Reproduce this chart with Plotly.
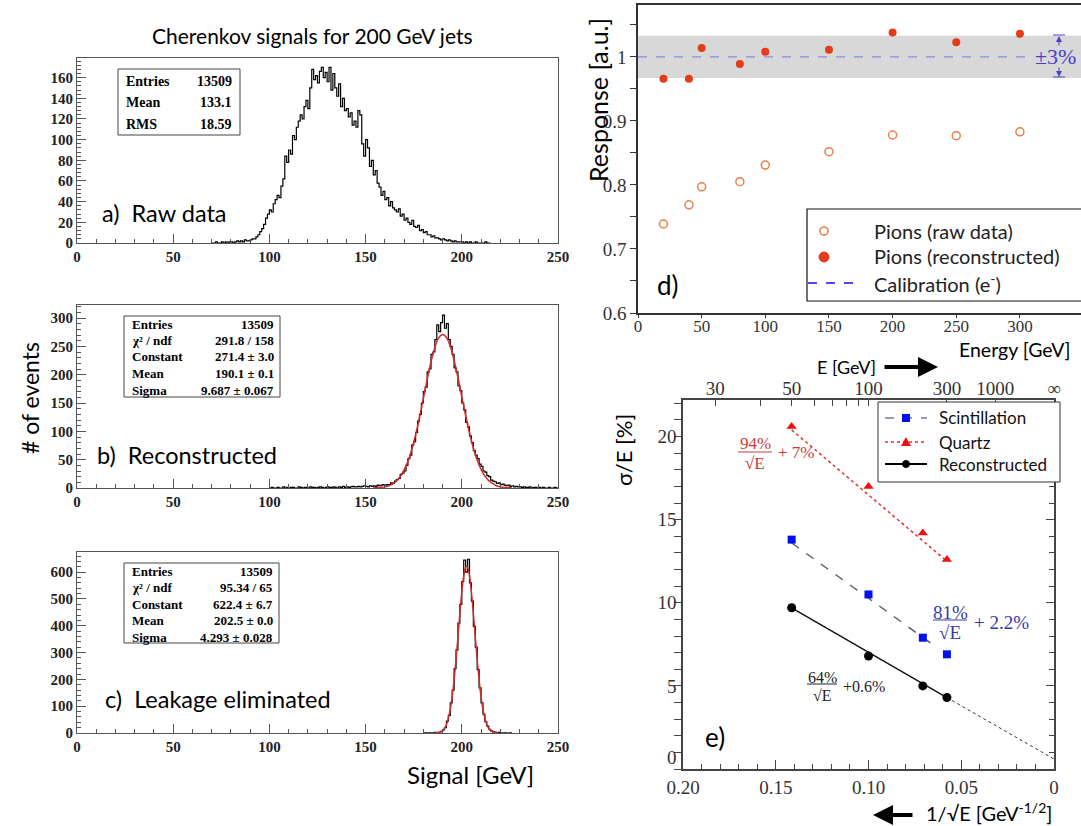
import numpy as np
import plotly.graph_objects as go

W, H = 1081, 826

# ---------------- data ----------------
# a) raw data histogram, 1 GeV bins starting at 70 GeV
a_start = 70
a_counts = [0, 0, 1, 0, 0, 1, 0, 1, 0, 1,
            1, 0, 1, 2, 1, 2, 1, 3, 2, 2,
            3, 4, 4, 6, 8, 11, 14, 18, 24, 28,
            32, 30, 38, 42, 46, 44, 55, 62, 84, 78,
            90, 86, 104, 100, 112, 118, 124, 120, 132, 138,
            130, 150, 168, 158, 162, 155, 166, 170, 160, 165,
            156, 170, 148, 164, 150, 142, 154, 132, 140, 128,
            130, 122, 126, 114, 118, 112, 128, 124, 96, 84,
            100, 92, 74, 80, 66, 70, 58, 54, 46, 50,
            42, 44, 36, 40, 34, 32, 30, 33, 26, 28,
            22, 24, 20, 18, 22, 16, 15, 17, 12, 13,
            10, 11, 8, 8, 6, 7, 5, 5, 4, 3,
            4, 3, 2, 3, 2, 1, 2, 1, 1, 1,
            1, 0, 1, 0, 1, 0, 0, 1, 0, 0, 0, 0, 1, 0, 0]

# b) reconstructed histogram, 1 GeV bins starting at 100 GeV
b_start = 100
b_counts = [0, 1, 0, 0, 1, 0, 0, 2, 0, 1, 0, 1, 1, 0, 0, 2, 1, 0, 1, 1,
            0, 2, 1, 1, 0, 1, 2, 1, 0, 1, 2, 1, 1, 2, 1, 0, 2, 1, 3, 1,
            2, 1, 2, 3, 2, 2, 3, 2, 3, 4,
            3, 2, 4, 3, 4, 3, 5, 4, 5, 6,
            5, 6, 6, 9, 8, 12, 15, 17, 24, 26,
            30, 40, 52, 58, 76, 82, 98, 118, 130, 150,
            170, 178, 205, 210, 236, 240, 262, 288, 276, 292,
            305, 282, 290, 262, 250, 236, 212, 205, 180, 172,
            150, 138, 116, 108, 92, 80, 66, 58, 52, 42,
            38, 30, 28, 22, 20, 14, 12, 11, 8, 9,
            6, 7, 5, 4, 5, 3, 4, 2, 3, 2, 2, 1, 2, 1, 1, 2, 0, 1, 1, 0,
            1, 0, 1, 0, 0, 1, 0, 0, 1, 0]
b_fit_x = [154, 156, 158, 160, 162, 164, 166, 168, 170, 172, 174, 176, 178, 180,
           182, 184, 186, 188, 190, 192, 194, 196, 198, 200, 202, 204, 206, 208,
           210, 212, 214, 216, 218, 220, 222, 224, 226]
b_fit_y = [0.3, 0.6, 1.2, 2, 4, 7, 12, 20, 32, 47, 68, 94, 124, 158, 191, 223, 248,
           265, 271, 266, 250, 225, 195, 161, 128, 97, 71, 49, 33, 21, 13, 8, 4, 2,
           1, 0.6, 0.3]

# c) leakage eliminated histogram, 1 GeV bins starting at 180 GeV
c_start = 180
c_counts = [0, 1, 0, 1, 0, 1, 2, 1, 3, 6,
            12, 20, 44, 66, 112, 160, 240, 310, 410, 480,
            565, 645, 600, 648, 560, 492, 398, 320, 236, 168,
            112, 70, 42, 26, 14, 8, 4, 3, 1, 2,
            1, 0, 1, 0, 0, 1]
c_fit_x = [186, 187, 188, 189, 190, 191, 192, 193, 194, 195, 196, 197, 198, 199, 200,
           201, 202, 202.5, 203, 204, 205, 206, 207, 208, 209, 210, 211, 212, 213,
           214, 215, 216, 217, 218, 219]
c_fit_y = [0.4, 0.9, 2, 4, 9, 17, 31, 54, 88, 135, 198, 274, 359, 447, 525, 586, 618,
           622, 618, 586, 525, 447, 359, 274, 198, 135, 88, 54, 31, 17, 9, 4, 2, 0.9, 0.4]

stats_a = [("Entries", "13509"), ("Mean", "133.1"), ("RMS", "18.59")]
stats_b = [("Entries", "13509"), ("χ² / ndf", "291.8 / 158"), ("Constant", "271.4 ± 3.0"),
           ("Mean", "190.1 ± 0.1"), ("Sigma", "9.687 ± 0.067")]
stats_c = [("Entries", "13509"), ("χ² / ndf", "95.34 / 65"), ("Constant", "622.4 ± 6.7"),
           ("Mean", "202.5 ± 0.0"), ("Sigma", "4.293 ± 0.028")]

# d) response vs energy
d_energy = [20, 40, 50, 80, 100, 150, 200, 250, 300]
d_raw = [0.739, 0.769, 0.797, 0.805, 0.831, 0.852, 0.878, 0.877, 0.883]
d_reco = [0.966, 0.966, 1.014, 0.989, 1.008, 1.011, 1.038, 1.023, 1.036]
d_calib = [1.0, 1.0]
d_calib_E = [0, 308]
d_band = [0.967, 1.033]

# e) resolution vs 1/sqrt(E)
e_energy = [50, 100, 200, 300]
e_scint = [13.8, 10.5, 7.9, 6.9]
e_quartz = [20.6, 17.0, 14.2, 12.6]
e_reco = [9.7, 6.8, 5.0, 4.3]
e_scint_fit_E = [50, 242]
e_scint_fit = [13.6, 7.4]
e_quartz_fit_E = [50, 300]
e_quartz_fit = [20.4, 12.5]
e_reco_fit_E = [50, 300]
e_reco_fit = [9.7, 4.3]
e_reco_extrap_E = [300, np.inf]
e_reco_extrap = [4.3, 0.6]
e_top_E = [30, 40, 50, 60, 70, 80, 90, 100, 300, 1000, np.inf]
e_top_text = ["30", "", "50", "", "", "", "", "100", "300", "1000", "∞"]
e_y_ticks = [5, 10, 15, 20]


def inv_sqrt(E):
    return 1.0 / np.sqrt(np.asarray(E, dtype=float))


# ---------------- helpers ----------------
def px(x):
    return x / W


def py(y):
    return 1 - y / H


SERIF = "Liberation Serif"
SANS = "Lato"

fig = go.Figure()
annotations = []
shapes = []


def text(t, x, y, size, family=SANS, color="black", xanchor="center",
         yanchor="middle", angle=0, weight="normal"):
    annotations.append(dict(text=t, x=px(x), y=py(y), xref="paper", yref="paper",
                            showarrow=False, xanchor=xanchor, yanchor=yanchor,
                            textangle=angle,
                            font=dict(family=family, size=size, color=color, weight=weight)))


def arrow(x_tip, y_tip, x_tail, y_tail, width, color="black", head=2, size=1.0):
    annotations.append(dict(text="", x=px(x_tip), y=py(y_tip),
                            ax=x_tail - x_tip, ay=y_tail - y_tip,
                            xref="paper", yref="paper",
                            showarrow=True, arrowhead=head, arrowwidth=width,
                            arrowsize=size, arrowcolor=color))


def rect(x0, y0, x1, y1, line="#444", width=1, fill="white", layer="above"):
    shapes.append(dict(type="rect", xref="paper", yref="paper", x0=px(x0), x1=px(x1),
                       y0=py(y1), y1=py(y0), line=dict(color=line, width=width),
                       fillcolor=fill, layer=layer))


def pline(x0, y0, x1, y1, color="black", width=1, dash="solid"):
    shapes.append(dict(type="line", xref="paper", yref="paper", x0=px(x0), x1=px(x1),
                       y0=py(y0), y1=py(y1), line=dict(color=color, width=width, dash=dash)))


def pcircle(cx, cy, r, line, fill, width=1.5):
    shapes.append(dict(type="circle", xref="paper", yref="paper", x0=px(cx - r), x1=px(cx + r),
                       y0=py(cy + r), y1=py(cy - r), line=dict(color=line, width=width),
                       fillcolor=fill))


def hist(start, counts, xa, ya):
    edges = np.arange(start, start + len(counts) + 1)
    yv = list(counts) + [counts[-1]]
    fig.add_trace(go.Scatter(x=edges, y=yv, mode="lines", xaxis=xa, yaxis=ya,
                             line=dict(color="black", width=1.2, shape="hv"),
                             showlegend=False, hoverinfo="skip"))


def fitline(xs, ys, xa, ya):
    fig.add_trace(go.Scatter(x=xs, y=ys, mode="lines", xaxis=xa, yaxis=ya,
                             line=dict(color="#d42a2a", width=1.5, shape="spline"),
                             showlegend=False, hoverinfo="skip"))


# ---------------- panels a-c ----------------
hist(a_start, a_counts, "x", "y")
hist(b_start, b_counts, "x2", "y2")
fitline(b_fit_x, b_fit_y, "x2", "y2")
hist(c_start, c_counts, "x3", "y3")
fitline(c_fit_x, c_fit_y, "x3", "y3")

# ---------------- panel d ----------------
fig.add_trace(go.Scatter(x=d_energy, y=d_raw, mode="markers", xaxis="x4", yaxis="y4",
                         marker=dict(symbol="circle-open", size=8, color="#e8804c",
                                     line=dict(width=1.5, color="#e8804c")),
                         showlegend=False))
fig.add_trace(go.Scatter(x=d_energy, y=d_reco, mode="markers", xaxis="x4", yaxis="y4",
                         marker=dict(symbol="circle", size=8, color="#e23c1a"),
                         showlegend=False))
shapes.append(dict(type="rect", xref="x4", yref="y4", x0=0, x1=348, y0=d_band[0], y1=d_band[1],
                   fillcolor="#d8d8d8", line=dict(width=0), layer="below"))
fig.add_trace(go.Scatter(x=d_calib_E, y=d_calib, mode="lines", xaxis="x4", yaxis="y4",
                         line=dict(color="#8a8ae6", width=1.2, dash="dash"),
                         showlegend=False, hoverinfo="skip"))

# ---------------- panel e ----------------
fig.add_trace(go.Scatter(x=inv_sqrt(e_scint_fit_E), y=e_scint_fit, mode="lines", xaxis="x5", yaxis="y5",
                         line=dict(color="#555555", width=1.3, dash="dash"), showlegend=False))
fig.add_trace(go.Scatter(x=inv_sqrt(e_quartz_fit_E), y=e_quartz_fit, mode="lines", xaxis="x5", yaxis="y5",
                         line=dict(color="#e03030", width=1.5, dash="dot"), showlegend=False))
fig.add_trace(go.Scatter(x=inv_sqrt(e_reco_fit_E), y=e_reco_fit, mode="lines", xaxis="x5", yaxis="y5",
                         line=dict(color="#111111", width=1.4), showlegend=False))
fig.add_trace(go.Scatter(x=inv_sqrt(e_reco_extrap_E), y=e_reco_extrap, mode="lines", xaxis="x5", yaxis="y5",
                         line=dict(color="#333333", width=1, dash="dot"), showlegend=False))
fig.add_trace(go.Scatter(x=inv_sqrt(e_energy), y=e_scint, mode="markers", xaxis="x5", yaxis="y5",
                         marker=dict(symbol="square", size=8, color="#0010ee"), showlegend=False))
fig.add_trace(go.Scatter(x=inv_sqrt(e_energy), y=e_quartz, mode="markers", xaxis="x5", yaxis="y5",
                         marker=dict(symbol="triangle-up", size=9, color="#ee1010"), showlegend=False))
fig.add_trace(go.Scatter(x=inv_sqrt(e_energy), y=e_reco, mode="markers", xaxis="x5", yaxis="y5",
                         marker=dict(symbol="circle", size=9, color="black"), showlegend=False))
# invisible traces anchoring the top (energy) axis and the right tick axis
fig.add_trace(go.Scatter(x=[0.1], y=[-5], mode="markers", xaxis="x6", yaxis="y5",
                         marker=dict(opacity=0), showlegend=False, hoverinfo="skip"))
fig.add_trace(go.Scatter(x=[0.1], y=[-5], mode="markers", xaxis="x5", yaxis="y7",
                         marker=dict(opacity=0), showlegend=False, hoverinfo="skip"))

# ---------------- axes ----------------
hist_font = dict(family=SERIF, size=15, color="#222", weight="bold")
hcommon = dict(showgrid=False, zeroline=False, showline=True, mirror=True, linecolor="#555",
               linewidth=1, ticks="inside", tickcolor="#555", ticklen=9, tickfont=hist_font)


def hminor(d, ln=4):
    return dict(dtick=d, ticks="inside", ticklen=ln, tickcolor="#555")


layout_axes = dict(
    xaxis=dict(domain=[px(77), px(558)], anchor="y", range=[0, 250], dtick=50, minor=hminor(10), **hcommon),
    yaxis=dict(domain=[py(243), py(58)], anchor="x", range=[0, 179], dtick=20, minor=hminor(4), **hcommon),
    xaxis2=dict(domain=[px(77), px(558)], anchor="y2", range=[0, 250], dtick=50, minor=hminor(10), **hcommon),
    yaxis2=dict(domain=[py(488), py(305)], anchor="x2", range=[0, 323], dtick=50, minor=hminor(10), **hcommon),
    xaxis3=dict(domain=[px(77), px(558)], anchor="y3", range=[0, 250], dtick=50, minor=hminor(10), **hcommon),
    yaxis3=dict(domain=[py(733), py(552)], anchor="x3", range=[0, 675], dtick=100, minor=hminor(20), **hcommon),
)

dfont = dict(family=SERIF, size=17, color="#333")
layout_axes["xaxis4"] = dict(domain=[px(638), 1], anchor="y4", range=[0, 348], dtick=50,
                             ticks="outside", ticklen=3, tickcolor="#333", showline=True, mirror=True,
                             linecolor="#333", linewidth=1.6, tickfont=dfont, ticklabelstandoff=-6,
                             showgrid=False, zeroline=False)
layout_axes["yaxis4"] = dict(domain=[py(313), py(5)], anchor="x4", range=[0.6, 1.081],
                             tickmode="array", tickvals=[0.6, 0.7, 0.8, 0.9, 1.0],
                             ticktext=["0.6", "0.7", "0.8", "0.9", "1"],
                             ticks="outside", ticklen=6, tickcolor="#333",
                             minor=dict(tickmode="linear", tick0=0.6, dtick=0.05, ticks="outside",
                                        ticklen=6, tickcolor="#333"),
                             showline=True, mirror=True, linecolor="#333", linewidth=1.6,
                             tickfont=dict(family=SERIF, size=19, color="#333"),
                             showgrid=False, zeroline=False)

efont = dict(family=SERIF, size=19, color="#333")
layout_axes["xaxis5"] = dict(domain=[px(683), px(1054)], anchor="y5", range=[0.2, 0],
                             tickmode="array", tickvals=[0.2, 0.15, 0.1, 0.05, 0],
                             ticktext=["0.20", "0.15", "0.10", "0.05", "0"],
                             ticks="inside", ticklen=9, tickcolor="#444",
                             minor=dict(tickmode="linear", tick0=0, dtick=0.01, ticks="inside",
                                        ticklen=5, tickcolor="#444"),
                             showline=True, mirror=True, linecolor="#444", linewidth=1.5,
                             tickfont=efont, showgrid=False, zeroline=False)
layout_axes["yaxis5"] = dict(domain=[py(769), py(400)], anchor="x5", range=[0, 22.2],
                             tickmode="array", tickvals=e_y_ticks,
                             ticks="outside", ticklen=7, tickcolor="#444",
                             minor=dict(tickmode="linear", tick0=0, dtick=1, ticks="outside",
                                        ticklen=7, tickcolor="#444"),
                             showline=True, mirror=True, linecolor="#444", linewidth=1.5,
                             tickfont=efont, ticklabelstandoff=-6, showgrid=False, zeroline=False)
layout_axes["yaxis7"] = dict(overlaying="y5", anchor="x5", side="right", range=[0, 22.2], dtick=5,
                             ticks="inside", ticklen=8, tickcolor="#444",
                             minor=dict(dtick=1, ticks="inside", ticklen=5, tickcolor="#444"),
                             showticklabels=False, showline=False, showgrid=False, zeroline=False)
layout_axes["xaxis6"] = dict(overlaying="x5", anchor="y5", side="top", range=[0.2, 0],
                             tickmode="array", tickvals=list(inv_sqrt(e_top_E)), ticktext=e_top_text,
                             ticks="inside", ticklen=6, tickcolor="#444", showline=False,
                             tickfont=efont, showgrid=False, zeroline=False)

# ---------------- texts: panels a-c ----------------
text("Cherenkov signals for 200 GeV jets", 312, 35, 21)
text("# of events", 30, 398, 23, angle=-90)
text("Signal [GeV]", 470, 774, 24)
text("a)  Raw data", 100, 213, 23.5, xanchor="left")
text("b)  Reconstructed", 95, 455, 23.5, xanchor="left")
text("c)  Leakage eliminated", 103, 699, 23.5, xanchor="left")

# stats boxes
rect(118, 69, 240, 135)
for i, (k, v) in enumerate(stats_a):
    yy = 81 + i * 21.5
    text(k, 124, yy, 14, family=SERIF, xanchor="left", weight="bold")
    text(v, 234, yy, 14, family=SERIF, xanchor="right", weight="bold")
for (x0, y0, x1, y1, rows, ystart) in [(124, 316, 280, 397, stats_b, 324), (124, 563, 279, 643, stats_c, 571)]:
    rect(x0, y0, x1, y1)
    for i, (k, v) in enumerate(rows):
        yy = ystart + i * 16.5
        text(k, x0 + 6, yy, 13, family=SERIF, xanchor="left", weight="bold")
        text(v, x1 - 4, yy, 13, family=SERIF, xanchor="right", weight="bold")

# ---------------- texts: panel d ----------------
text("Response [a.u.]", 598, 100, 25, angle=-90)
text("Energy [GeV]", 1073, 349, 19.5, xanchor="right")
text("d)", 655, 285, 26, xanchor="left")
text("±3%", 1055, 57, 22, family=SERIF, color="#4a40c8")
arrow(1059, 36, 1059, 47, 1, color="#4a40c8", head=2, size=1.2)
arrow(1059, 77, 1059, 66, 1, color="#4a40c8", head=2, size=1.2)
pline(1053, 35, 1065, 35, color="#4a40c8", width=1)
pline(1053, 77, 1065, 77, color="#4a40c8", width=1)

rect(807, 209, 1085, 301, line="#111", width=1.2, fill="white")
pcircle(824, 231, 4, "#e8804c", "white", 1.6)
pcircle(824, 257, 5, "#e23c1a", "#e23c1a", 1)
pline(808, 283, 853, 283, color="#6040e0", width=2, dash="dash")
text("Pions (raw data)", 872, 231, 20, xanchor="left", color="#222")
text("Pions (reconstructed)", 872, 256, 20, xanchor="left", color="#222")
text("Calibration (e<sup>-</sup>)", 872, 283, 20, xanchor="left", color="#222")

# ---------------- texts: panel e ----------------
text("σ/E [%]", 623, 450, 22, angle=-90)
text("0", 679, 757, 19, family=SERIF, color="#333", xanchor="right")
text("E [GeV]", 846, 367, 18)
arrow(938, 367, 883, 367, 4)
arrow(873, 815, 914, 815, 4)
text("1/√E [GeV<sup>-1/2</sup>]", 924, 812, 20, xanchor="left")
text("e)", 703, 737, 26, xanchor="left")

# fraction labels
for (num, cx, ynum, ybar, yden, half, plus, xplus, yplus, col, sz) in [
        ("94%", 755, 444, 452, 463, 17, "+ 7%", 776, 453, "#c83a3a", 17),
        ("81%", 950, 612, 620, 632, 17, "+ 2.2%", 972, 622, "#3838a8", 19),
        ("64%", 822, 677, 684, 695, 15, "+0.6%", 841, 686, "#222222", 16)]:
    text(num, cx, ynum, sz, family=SERIF, color=col)
    pline(cx - half, ybar, cx + half, ybar, color=col, width=1)
    text("√E", cx, yden, sz, family=SERIF, color=col)
    text(plus, xplus, yplus, sz, family=SERIF, color=col, xanchor="left")

# legend e
rect(878, 402, 1060, 482, line="#333", width=1, fill="white")
pline(885, 418, 927, 418, color="#333366", width=1, dash="dash")
shapes.append(dict(type="rect", xref="paper", yref="paper", x0=px(902), x1=px(910),
                   y0=py(422), y1=py(414), fillcolor="#0010ee", line=dict(width=0)))
pline(885, 442, 927, 442, color="#e03030", width=1.5, dash="dot")
shapes.append(dict(type="path", xref="paper", yref="paper",
                   path="M {} {} L {} {} L {} {} Z".format(px(901), py(446), px(911), py(446), px(906), py(437)),
                   fillcolor="#ee1010", line=dict(width=0)))
pline(885, 464, 927, 464, color="black", width=2)
pcircle(906, 464, 3.5, "black", "black", 1)
text("Scintillation", 937, 418, 17, xanchor="left", color="#111")
text("Quartz", 937, 442, 17, xanchor="left", color="#111")
text("Reconstructed", 937, 464, 17, xanchor="left", color="#111")

fig.update_layout(
    template="none",
    width=W, height=H,
    margin=dict(l=0, r=0, t=0, b=0),
    paper_bgcolor="white",
    plot_bgcolor="rgba(0,0,0,0)",
    showlegend=False,
    font=dict(family=SANS, color="black"),
    annotations=annotations,
    shapes=shapes,
    **layout_axes,
)

fig.write_html("out.html")
